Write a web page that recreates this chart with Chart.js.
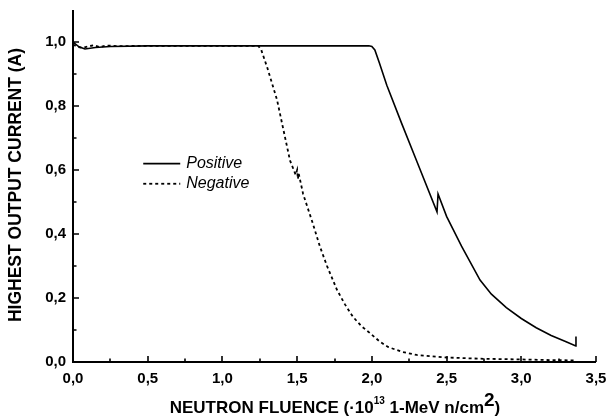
<!DOCTYPE html>
<html>
<head>
<meta charset="utf-8">
<script src="https://cdn.jsdelivr.net/npm/chart.js@4.4.1/dist/chart.umd.min.js"></script>
<style>
html,body{margin:0;padding:0;background:#fff;}
#wrap{width:608px;height:419px;}
</style>
</head>
<body>
<div id="wrap"><canvas id="c" width="608" height="419"></canvas></div>
<script>
// ---- data ----
const posX = [0, 0.04, 0.08, 0.15, 0.25, 0.5, 1.0, 1.5, 1.98, 2.0, 2.02, 2.05, 2.1, 2.2, 2.3, 2.436, 2.443, 2.5, 2.6, 2.724, 2.8, 2.9, 3.0, 3.1, 3.2, 3.3, 3.365, 3.366];
const posY = [1.0, 0.985, 0.978, 0.983, 0.986, 0.988, 0.988, 0.988, 0.988, 0.986, 0.975, 0.935, 0.865, 0.745, 0.628, 0.469, 0.525, 0.455, 0.362, 0.256, 0.212, 0.170, 0.136, 0.107, 0.083, 0.063, 0.050, 0.080];

const negX = [0, 0.03, 0.06, 0.1, 0.14, 0.18, 0.22, 0.3, 0.5, 1.0, 1.24, 1.26, 1.3, 1.365, 1.452, 1.49, 1.50, 1.505, 1.51, 1.54, 1.6, 1.653, 1.7, 1.767, 1.82, 1.874, 1.93, 1.988, 2.05, 2.108, 2.2, 2.3, 2.5, 2.75, 3.0, 3.2, 3.36];
const negY = [0.992, 0.985, 0.982, 0.986, 0.990, 0.984, 0.989, 0.987, 0.988, 0.988, 0.988, 0.975, 0.92, 0.82, 0.63, 0.585, 0.60, 0.572, 0.59, 0.525, 0.44, 0.36, 0.30, 0.225, 0.18, 0.141, 0.112, 0.090, 0.065, 0.047, 0.032, 0.022, 0.014, 0.010, 0.008, 0.006, 0.005];

const xMajorTicks = [0, 0.5, 1.0, 1.5, 2.0, 2.5, 3.0, 3.5];
const xMinorTicks = [0.25, 0.75, 1.25, 1.75, 2.25, 2.75, 3.25];
const yMajorTicks = [0, 0.2, 0.4, 0.6, 0.8, 1.0];
const yMinorTicks = [0.1, 0.3, 0.5, 0.7, 0.9];

const seriesNames = ['Positive', 'Negative'];
const yTitle = 'HIGHEST OUTPUT CURRENT (A)';

const FONT = '"Liberation Sans", Arial, Helvetica, sans-serif';
const fmt = v => v.toFixed(1).replace('.', ',');

const axesPlugin = {
  id: 'axesPlugin',
  afterDraw(chart) {
    const ctx = chart.ctx;
    const xs = chart.scales.x, ys = chart.scales.y;
    const ca = chart.chartArea;
    ctx.save();
    ctx.strokeStyle = '#000';
    ctx.lineWidth = 2;
    ctx.lineCap = 'butt';
    // axis lines
    ctx.beginPath();
    ctx.moveTo(ca.left, ca.top);
    ctx.lineTo(ca.left, ca.bottom);
    ctx.lineTo(ca.right, ca.bottom);
    ctx.stroke();
    // ticks (inward)
    ctx.lineWidth = 1.6;
    ctx.beginPath();
    xMajorTicks.forEach(v => { const p = Math.round(xs.getPixelForValue(v)); ctx.moveTo(p, ca.bottom); ctx.lineTo(p, ca.bottom - 6); });
    xMinorTicks.forEach(v => { const p = Math.round(xs.getPixelForValue(v)); ctx.moveTo(p, ca.bottom); ctx.lineTo(p, ca.bottom - 3.5); });
    yMajorTicks.forEach(v => { const p = Math.round(ys.getPixelForValue(v)); ctx.moveTo(ca.left, p); ctx.lineTo(ca.left + 6, p); });
    yMinorTicks.forEach(v => { const p = Math.round(ys.getPixelForValue(v)); ctx.moveTo(ca.left, p); ctx.lineTo(ca.left + 3.5, p); });
    ctx.stroke();

    // legend
    const lx = xs.getPixelForValue(0.47), ly1 = ys.getPixelForValue(0.62), ly2 = ys.getPixelForValue(0.557);
    ctx.lineWidth = 1.6;
    ctx.setLineDash([]);
    ctx.beginPath(); ctx.moveTo(lx, ly1); ctx.lineTo(lx + 37, ly1); ctx.stroke();
    ctx.lineWidth = 1.8;
    ctx.setLineDash([3, 3]);
    ctx.beginPath(); ctx.moveTo(lx, ly2); ctx.lineTo(lx + 37, ly2); ctx.stroke();
    ctx.setLineDash([]);
    ctx.fillStyle = '#000';
    ctx.font = 'italic 16px ' + FONT;
    ctx.textBaseline = 'middle';
    ctx.textAlign = 'left';
    ctx.fillText(seriesNames[0], lx + 43, ly1);
    ctx.fillText(seriesNames[1], lx + 43, ly2);

    // y title
    ctx.save();
    ctx.translate(16, 185);
    ctx.rotate(-Math.PI / 2);
    ctx.font = 'bold 17.5px ' + FONT;
    ctx.textAlign = 'center';
    ctx.textBaseline = 'middle';
    ctx.fillText(yTitle, 0, 0);
    ctx.restore();

    // x title with superscripts
    const parts = [
      {t: 'NEUTRON FLUENCE (\u00B710', f: 'bold 17px ' + FONT, dy: 0},
      {t: '13', f: 'bold 10px ' + FONT, dy: -9},
      {t: ' 1-MeV n/cm', f: 'bold 17px ' + FONT, dy: 0},
      {t: '2', f: 'bold 19px ' + FONT, dy: -7},
      {t: ')', f: 'bold 17px ' + FONT, dy: 0}
    ];
    let total = 0;
    parts.forEach(p => { ctx.font = p.f; p.w = ctx.measureText(p.t).width; total += p.w; });
    let x = 335 - total / 2;
    const base = 413;
    ctx.textBaseline = 'alphabetic';
    parts.forEach(p => { ctx.font = p.f; ctx.fillText(p.t, x, base + p.dy); x += p.w; });
    ctx.restore();
  }
};

const toPts = (xs, ys) => xs.map((x, i) => ({x: x, y: ys[i]}));

new Chart(document.getElementById('c'), {
  type: 'line',
  data: {
    datasets: [
      {label: seriesNames[0], data: toPts(posX, posY), borderColor: '#000', borderWidth: 1.6, pointRadius: 0, tension: 0, fill: false},
      {label: seriesNames[1], data: toPts(negX, negY), borderColor: '#000', borderWidth: 1.8, borderDash: [3, 3], pointRadius: 0, tension: 0, fill: false}
    ]
  },
  options: {
    responsive: false,
    animation: false,
    devicePixelRatio: 1,
    layout: {padding: {left: 0, top: 10, right: 12, bottom: 0}},
    plugins: {legend: {display: false}, tooltip: {enabled: false}},
    scales: {
      x: {
        type: 'linear', min: 0, max: 3.5,
        grid: {display: false, drawTicks: false}, border: {display: false},
        afterBuildTicks: s => { s.ticks = xMajorTicks.map(v => ({value: v})); },
        afterFit: s => { s.height = 57; s.paddingLeft = 0; s.paddingRight = 0; },
        ticks: {padding: 8, color: '#000', font: {family: FONT, size: 15, weight: 'bold'}, callback: v => fmt(v), maxRotation: 0, autoSkip: false}
      },
      y: {
        type: 'linear', min: 0, max: 1.1,
        grid: {display: false, drawTicks: false}, border: {display: false},
        afterBuildTicks: s => { s.ticks = yMajorTicks.map(v => ({value: v})); },
        afterFit: s => { s.width = 73; s.paddingTop = 0; s.paddingBottom = 0; },
        ticks: {padding: 7, color: '#000', font: {family: FONT, size: 15, weight: 'bold'}, callback: v => fmt(v), autoSkip: false}
      }
    }
  },
  plugins: [axesPlugin]
});
</script>
</body>
</html>
